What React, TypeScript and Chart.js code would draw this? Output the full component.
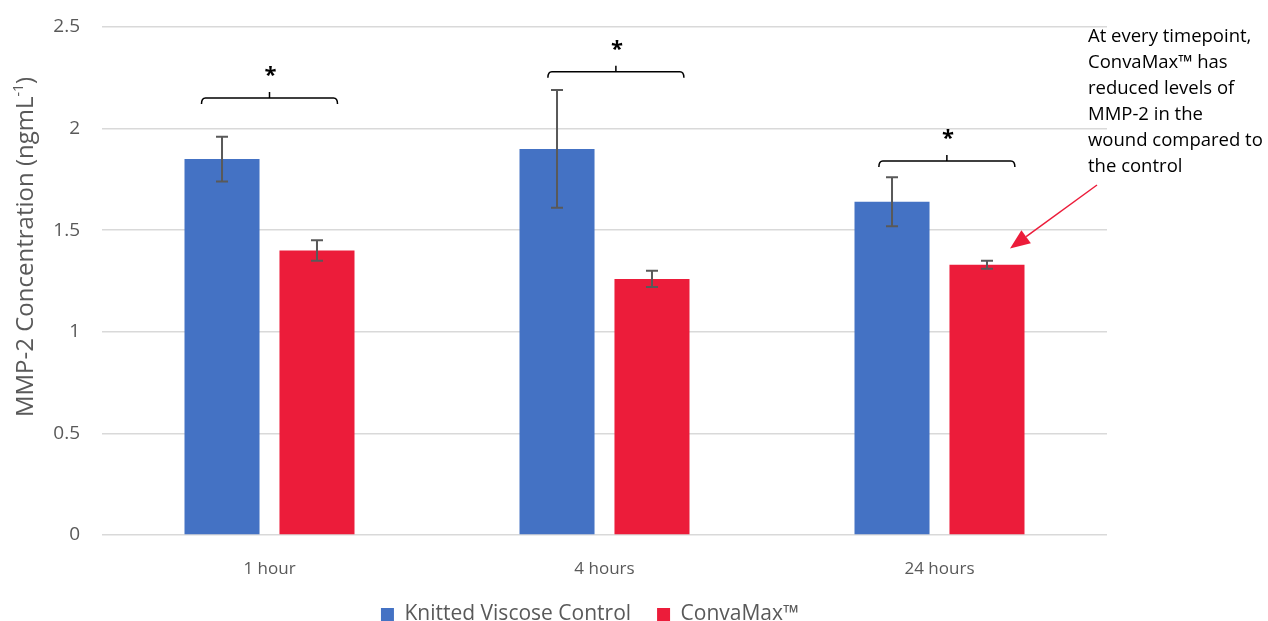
import React, { useEffect, useRef } from "react";
import { Chart, registerables } from "chart.js";

Chart.register(...registerables);

const FONT = "'Open Sans', 'Noto Sans', sans-serif";

const categories = ["1 hour", "4 hours", "24 hours"];
const seriesNames = ["Knitted Viscose Control", "ConvaMax™"];
const seriesColors = ["#4472C4", "#EC1C3A"];
const controlValues = [1.85, 1.9, 1.64];
const controlErrors = [0.11, 0.29, 0.12];
const convamaxValues = [1.4, 1.26, 1.33];
const convamaxErrors = [0.05, 0.04, 0.02];
const yTicks = [0, 0.5, 1, 1.5, 2, 2.5];
const bracketLevels = [2.15, 2.28, 1.84];
const bracketShifts = [0, 0.034, 0.022];
const bracketLabels = ["*", "*", "*"];
const noteLines = [
  "At every timepoint,",
  "ConvaMax™ has",
  "reduced levels of",
  "MMP-2 in the",
  "wound compared to",
  "the control",
];
const yTitleMain = "MMP-2 Concentration (ngmL";
const yTitleSup = "-1";
const yTitleEnd = ")";
const arrowTipValue = 1.41;

const CANVAS_H = 635;

const overlayPlugin = {
  id: "overlay",
  afterDatasetsDraw(chart: any) {
    const ctx = chart.ctx as CanvasRenderingContext2D;
    const xs = chart.scales.x;
    const ys = chart.scales.y;
    const area = chart.chartArea;
    const errs = [controlErrors, convamaxErrors];
    ctx.save();

    // error bars
    chart.data.datasets.forEach((ds: any, di: number) => {
      const meta = chart.getDatasetMeta(di);
      meta.data.forEach((bar: any, i: number) => {
        const v = ds.data[i];
        const e = errs[di][i];
        const yt = ys.getPixelForValue(v + e);
        const yb = ys.getPixelForValue(v - e);
        ctx.strokeStyle = "#595959";
        ctx.lineWidth = 2;
        ctx.beginPath();
        ctx.moveTo(bar.x, yt);
        ctx.lineTo(bar.x, yb);
        ctx.moveTo(bar.x - 6, yt);
        ctx.lineTo(bar.x + 6, yt);
        ctx.moveTo(bar.x - 6, yb);
        ctx.lineTo(bar.x + 6, yb);
        ctx.stroke();
      });
    });

    // significance brackets
    const catW = (area.right - area.left) / categories.length;
    bracketLevels.forEach((lvl, i) => {
      const cx = xs.getPixelForValue(i) + bracketShifts[i] * catW;
      const by = ys.getPixelForValue(lvl);
      const hw = 0.203 * catW;
      ctx.strokeStyle = "#000000";
      ctx.lineWidth = 1.5;
      ctx.lineJoin = "round";
      ctx.beginPath();
      ctx.moveTo(cx - hw, by + 6);
      ctx.quadraticCurveTo(cx - hw, by, cx - hw + 4, by);
      ctx.lineTo(cx + hw - 4, by);
      ctx.quadraticCurveTo(cx + hw, by, cx + hw, by + 6);
      ctx.moveTo(cx, by);
      ctx.lineTo(cx, by - 6);
      ctx.stroke();
      ctx.fillStyle = "#000000";
      ctx.font = `bold 22px ${FONT}`;
      ctx.textAlign = "center";
      ctx.textBaseline = "middle";
      ctx.fillText(bracketLabels[i], cx + 1, by - 22);
    });

    // note text
    ctx.fillStyle = "#000000";
    ctx.font = `18.5px ${FONT}`;
    ctx.textAlign = "left";
    ctx.textBaseline = "middle";
    const noteX = area.right - 19;
    noteLines.forEach((line, i) => {
      ctx.fillText(line, noteX, area.top + 10 + i * 26);
    });

    // arrow
    const redMeta = chart.getDatasetMeta(1);
    const lastBar = redMeta.data[categories.length - 1];
    const tipX = lastBar.x + 23;
    const tipY = ys.getPixelForValue(arrowTipValue);
    const startX = area.right - 10;
    const startY = area.top + 158;
    const dx = tipX - startX;
    const dy = tipY - startY;
    const len = Math.hypot(dx, dy);
    const ux = dx / len;
    const uy = dy / len;
    const headLen = 20;
    const headW = 8;
    const bx = tipX - ux * headLen;
    const byy = tipY - uy * headLen;
    ctx.strokeStyle = "#EC1C3A";
    ctx.fillStyle = "#EC1C3A";
    ctx.lineWidth = 1.5;
    ctx.beginPath();
    ctx.moveTo(startX, startY);
    ctx.lineTo(bx, byy);
    ctx.stroke();
    ctx.beginPath();
    ctx.moveTo(tipX, tipY);
    ctx.lineTo(bx - uy * headW, byy + ux * headW);
    ctx.lineTo(bx + uy * headW, byy - ux * headW);
    ctx.closePath();
    ctx.fill();

    // y axis title with superscript
    ctx.save();
    ctx.translate(26, 247);
    ctx.rotate(-Math.PI / 2);
    ctx.fillStyle = "#595959";
    ctx.textBaseline = "middle";
    ctx.textAlign = "left";
    const mainFont = `24px ${FONT}`;
    const supFont = `14px ${FONT}`;
    ctx.font = mainFont;
    const w1 = ctx.measureText(yTitleMain).width;
    const w3 = ctx.measureText(yTitleEnd).width;
    ctx.font = supFont;
    const w2 = ctx.measureText(yTitleSup).width;
    const total = w1 + w2 + w3;
    let x0 = -total / 2;
    ctx.font = mainFont;
    ctx.fillText(yTitleMain, x0, 0);
    x0 += w1;
    ctx.font = supFont;
    ctx.fillText(yTitleSup, x0, -7);
    x0 += w2;
    ctx.font = mainFont;
    ctx.fillText(yTitleEnd, x0, 0);
    ctx.restore();

    ctx.restore();
  },
};

export default function App() {
  const canvasRef = useRef<HTMLCanvasElement | null>(null);

  useEffect(() => {
    const canvas = canvasRef.current;
    if (!canvas) return;
    Chart.defaults.font.family = FONT;
    const chart = new Chart(canvas, {
      type: "bar",
      data: {
        labels: categories,
        datasets: [
          {
            label: seriesNames[0],
            data: controlValues,
            backgroundColor: seriesColors[0],
            borderWidth: 0,
          },
          {
            label: seriesNames[1],
            data: convamaxValues,
            backgroundColor: seriesColors[1],
            borderWidth: 0,
          },
        ],
      },
      options: {
        responsive: false,
        animation: false,
        events: [],
        layout: { padding: { left: 0, right: 88, top: 27, bottom: 0 } },
        datasets: {
          bar: { categoryPercentage: 0.567, barPercentage: 0.79 },
        },
        plugins: {
          legend: {
            position: "bottom",
            labels: {
              boxWidth: 13,
              boxHeight: 13,
              padding: 26,
              color: "#595959",
              font: { size: 21, family: FONT },
            },
          },
          tooltip: { enabled: false },
          title: { display: false },
        },
        scales: {
          x: {
            grid: { display: false },
            border: { display: false },
            ticks: { color: "#595959", font: { size: 17, family: FONT }, padding: 16 },
            afterFit: (s: any) => {
              s.height = 43;
            },
          },
          y: {
            min: 0,
            max: 2.5,
            grid: {
              color: "#D9D9D9",
              lineWidth: 1.5,
              drawTicks: true,
              tickLength: 8,
              tickColor: "rgba(0,0,0,0)",
            },
            border: { display: false },
            ticks: {
              color: "#595959",
              font: { size: 19, family: FONT },
              padding: 14,
              callback: (v: any) => `${v}`,
            },
            afterBuildTicks: (s: any) => {
              s.ticks = yTicks.map((v) => ({ value: v }));
            },
            afterFit: (s: any) => {
              s.width = 102;
            },
          },
          y2: {
            position: "right",
            display: true,
            grid: { display: false },
            border: { display: false },
            ticks: { display: false },
            afterFit: (s: any) => {
              s.width = 73;
            },
          },
        },
      },
      plugins: [overlayPlugin],
    });
    return () => chart.destroy();
  }, []);

  return (
    <div style={{ position: "fixed", left: 0, top: 0, width: 1268, height: CANVAS_H, background: "#fff" }}>
      <canvas ref={canvasRef} width={1268} height={CANVAS_H} style={{ display: "block" }} />
    </div>
  );
}
